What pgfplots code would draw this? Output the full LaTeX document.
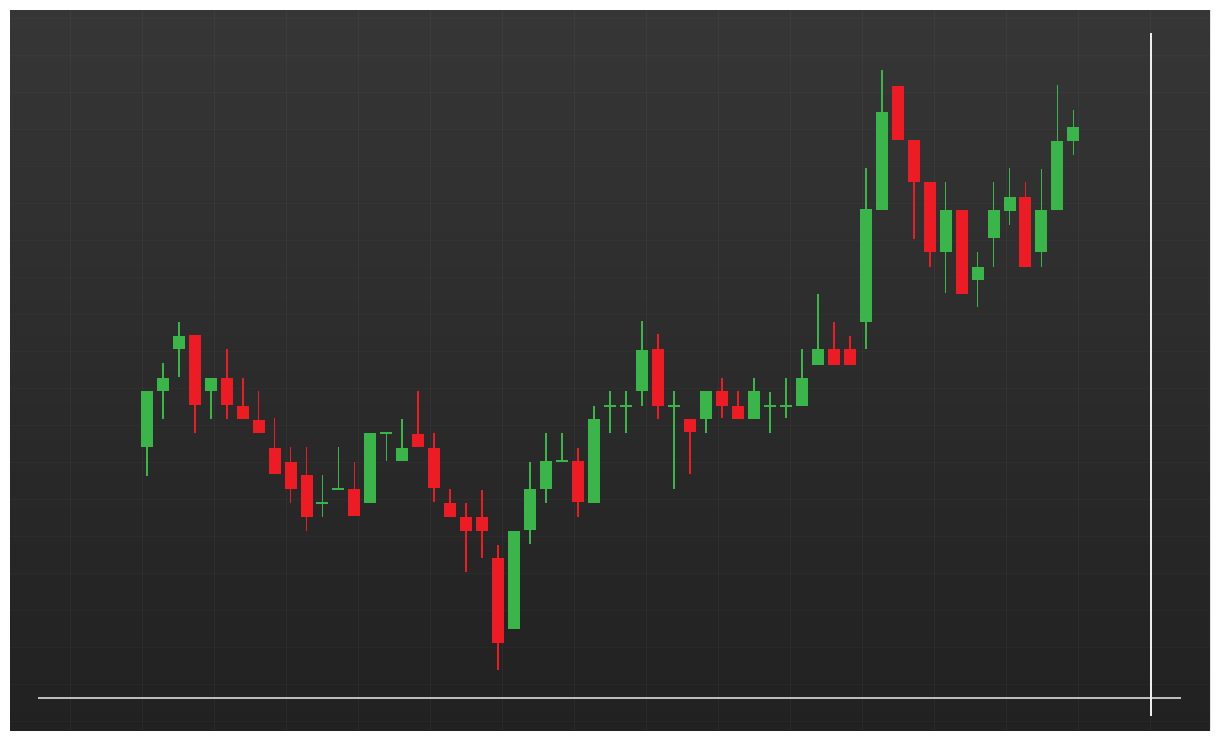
\documentclass[border=0pt]{standalone}
\usepackage{pgfplots}
\usepackage{pgfplotstable}
\pgfplotsset{compat=1.18}
\definecolor{cgreen}{HTML}{39B54A}
\definecolor{cred}{HTML}{ED1C24}
\definecolor{bgtop}{HTML}{363636}
\definecolor{bgbot}{HTML}{212121}
\definecolor{hline}{HTML}{BDBDBD}
\definecolor{vline}{HTML}{EDEDED}

% x, body top, body bottom, wick top, wick bottom (y grows downward)
\pgfplotstableread{
x bt bb wt wb
146.7 391 447 391 476
162.7 378 391 363 419
178.7 336 349 322 377
210.6 378 391 378 419
322.4 502.3 503.7 475 517
338.4 488.3 489.7 447 489
370.4 433 503 433 503
386.4 432.3 433.7 433 461
402.3 448 461 419 461
514.2 531 629 531 629
530.1 489 530 462 544
546.1 461 489 433 503
562.1 460.3 461.7 433 461
594.1 419 503 406 503
610.0 405.3 406.7 391 433
626.0 405.3 406.7 391 433
642.0 350 391 321 406
673.9 405.3 406.7 391 489
705.9 391 419 391 433
753.8 391 419 378 419
769.8 405.3 406.7 392 433
785.8 405.3 406.7 378 418
801.8 378 406 349 406
817.7 349 365 294 365
865.7 209 322 168 349
881.6 112 210 70 210
945.5 210 252 182 293
977.5 267 280 252 307
993.5 210 238 182 267
1009.5 197 211 168 225
1041.4 210 252 169 267
1057.4 141 210 85 210
1073.4 127 141 110 155
}\greendata

\pgfplotstableread{
x bt bb wt wb
194.6 335 405 335 433
226.6 378 405 349 419
242.6 405.5 419 378 419
258.5 420 433 391 433
274.5 448 474 418 474
290.5 462 489 447 503
306.5 475 517 447 531
354.4 489 516 462 516
418.3 434 447 391 447
434.3 448 488 433 502
450.3 503 517 489 517
466.2 517 531 503 572
482.2 517 531 490 558
498.2 558 643 545 670
578.1 461 502 448 517
658.0 349 406 334 419
689.9 419 432 419 474
721.9 391 406 378 418
737.8 406 419 391 419
833.7 349 365 322 365
849.7 349 365 336 365
897.6 86 140 86 140
913.6 140 182 140 239
929.6 182 252 182 267
961.5 210 294 210 294
1025.4 197 267 182 267
}\reddata

\pgfplotsset{candle/.style={only marks, mark size=0pt,
  mark options={draw=none, fill=none}, forget plot}}

\begin{document}
\begin{tikzpicture}
\begin{axis}[
  scale only axis, width=610pt, height=370pt,
  xmin=0, xmax=1220, ymin=0, ymax=740, y dir=reverse,
  hide axis, clip=false]
\fill[white] (axis cs:0,0) rectangle (axis cs:1220,740);
\fill[top color=bgtop, bottom color=bgbot] (axis cs:10,10) rectangle (axis cs:1210,730);
\pgfplotsinvokeforeach{70,142,...,1150}{
  \draw[white, opacity=0.04, line width=0.5pt] (axis cs:#1,10) -- (axis cs:#1,730);}
\pgfplotsinvokeforeach{18,55,...,721}{
  \draw[white, opacity=0.025, line width=0.5pt] (axis cs:10,#1) -- (axis cs:1210,#1);}
\draw[hline, line width=0.8pt] (axis cs:38,698) -- (axis cs:1181,698);
\draw[vline, line width=1pt] (axis cs:1151,33) -- (axis cs:1151,716);

% wicks
\addplot[candle,
  error bars/.cd, y dir=both, y explicit, error mark=none,
  error bar style={cgreen, line width=0.9pt}]
  table[x=x, y expr={(\thisrow{wt}+\thisrow{wb})/2}, y error expr={(\thisrow{wb}-\thisrow{wt})/2}] {\greendata};
\addplot[candle,
  error bars/.cd, y dir=both, y explicit, error mark=none,
  error bar style={cred, line width=0.9pt}]
  table[x=x, y expr={(\thisrow{wt}+\thisrow{wb})/2}, y error expr={(\thisrow{wb}-\thisrow{wt})/2}] {\reddata};
% bodies
\addplot[candle,
  error bars/.cd, y dir=both, y explicit, error mark=none,
  error bar style={cgreen, line width=6pt}]
  table[x=x, y expr={(\thisrow{bt}+\thisrow{bb})/2}, y error expr={(\thisrow{bb}-\thisrow{bt})/2}] {\greendata};
\addplot[candle,
  error bars/.cd, y dir=both, y explicit, error mark=none,
  error bar style={cred, line width=6pt}]
  table[x=x, y expr={(\thisrow{bt}+\thisrow{bb})/2}, y error expr={(\thisrow{bb}-\thisrow{bt})/2}] {\reddata};
\end{axis}
\end{tikzpicture}
\end{document}
